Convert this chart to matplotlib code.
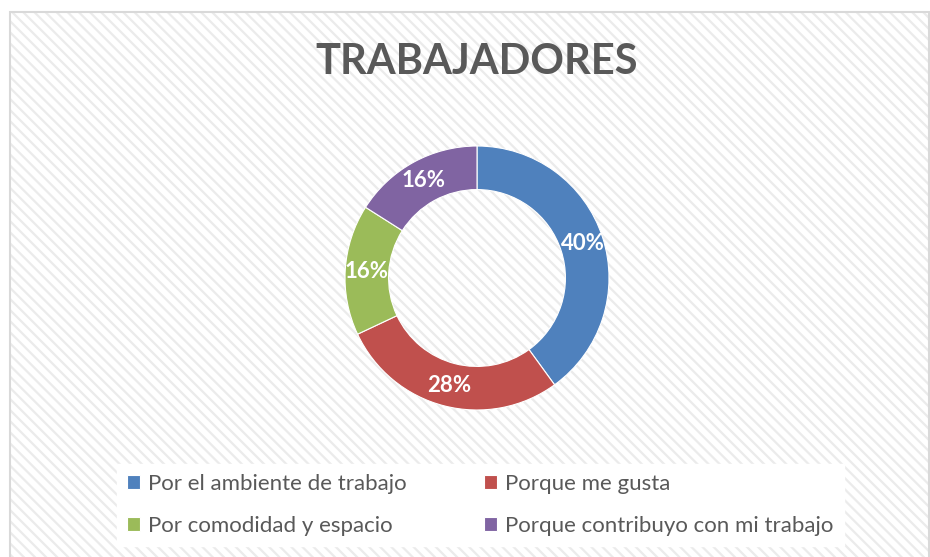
import matplotlib.pyplot as plt
from matplotlib.patches import Rectangle

categorias = ['Por el ambiente de trabajo', 'Porque me gusta',
              'Por comodidad y espacio', 'Porque contribuyo con mi trabajo']
valores = [40, 28, 16, 16]
colores = ['#4f81bd', '#c0504d', '#9bbb59', '#8064a2']

plt.rcParams['font.family'] = ['Lato', 'DejaVu Sans']
plt.rcParams['hatch.linewidth'] = 1.6

W, H = 930, 557
fig = plt.figure(figsize=(W / 100, H / 100), dpi=100)
fig.patch.set_facecolor('white')

# fondo rayado del grafico
fondo = Rectangle((10 / W, 0), 919 / W, 1 - 12 / H, transform=fig.transFigure,
                  facecolor='white', edgecolor='#ebebeb', hatch='\\\\\\',
                  linewidth=0, zorder=0)
fig.patches.append(fondo)
borde = Rectangle((10 / W, -0.01), 919 / W, 1 - 12 / H + 0.01, transform=fig.transFigure,
                  facecolor='none', edgecolor='#d9d9d9', linewidth=1.5, zorder=1)
fig.patches.append(borde)

# dona
cx, cy, r = 477, 278, 132
lado = 300
ax = fig.add_axes([(cx - lado / 2) / W, (H - cy - lado / 2) / H, lado / W, lado / H])
ax.set_zorder(3)
ax.patch.set_alpha(0)
ax.axis('off')

wedges, textos, pcts = ax.pie(valores, colors=colores, startangle=90, counterclock=False,
                              radius=1, autopct='%1.0f%%', pctdistance=0.84,
                              wedgeprops=dict(width=0.33, edgecolor='white', linewidth=0.8),
                              textprops=dict(color='white', fontsize=16, fontweight='bold'))
ax.set_aspect('equal')
ax.set_xlim(-lado / 2 / r, lado / 2 / r)
ax.set_ylim(-lado / 2 / r, lado / 2 / r)

fig.text(cx / W, 1 - 62 / H, 'TRABAJADORES', ha='center', va='center',
         fontsize=30, fontweight='bold', color='#595959', zorder=3)

orden = [0, 2, 1, 3]
leg = fig.legend([wedges[i] for i in orden], [categorias[i] for i in orden], ncol=2,
                 loc='center', bbox_to_anchor=(480 / W, 1 - 505 / H), frameon=True,
                 fontsize=16, handlelength=0.6, handleheight=0.6, handletextpad=0.35,
                 columnspacing=3.5, labelspacing=1.0, borderpad=0.45)
leg.set_zorder(3)
leg.get_frame().set_facecolor('white')
leg.get_frame().set_edgecolor('white')
leg.get_frame().set_alpha(1)
leg.get_frame().set_boxstyle('square', pad=0)
for t in leg.get_texts():
    t.set_color('#595959')

fig.savefig('out.png', dpi=100)
